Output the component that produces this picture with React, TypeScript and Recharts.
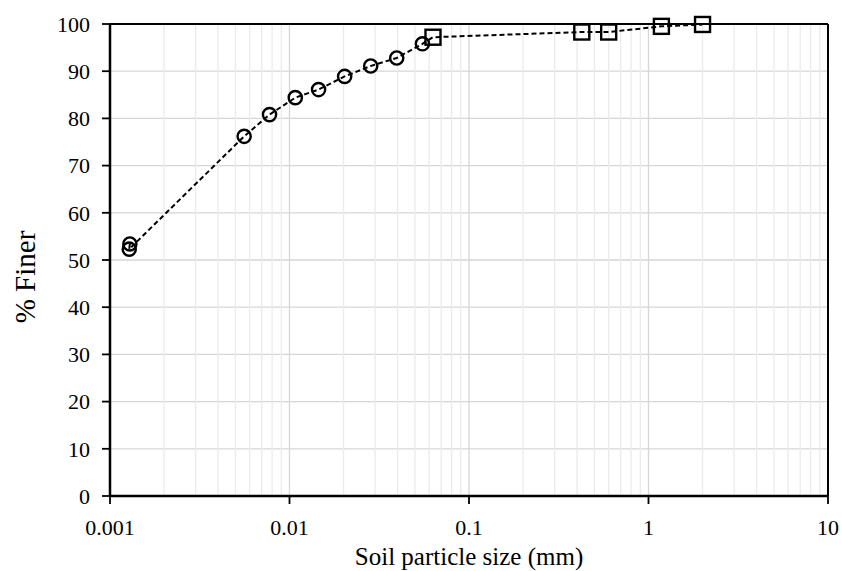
import React from 'react';
import {
  ComposedChart, Line, XAxis, YAxis, CartesianGrid, ReferenceLine,
} from 'recharts';

// hydrometer readings (circles)
const hydroSize = [0.00129, 0.00128, 0.00559, 0.00774, 0.01077, 0.01452, 0.02029, 0.02834, 0.03957, 0.05503];
const hydroFiner = [53.4, 52.3, 76.2, 80.8, 84.4, 86.1, 88.9, 91.1, 92.8, 95.8];

// sieve readings (squares)
const sieveSize = [0.063, 0.425, 0.6, 1.18, 2.0];
const sieveFiner = [97.2, 98.3, 98.3, 99.5, 99.9];

const xTicks = [0.001, 0.01, 0.1, 1, 10];
const yTicks = [0, 10, 20, 30, 40, 50, 60, 70, 80, 90, 100];
const decades = [0.001, 0.01, 0.1, 1];
const minorSteps = [2, 3, 4, 5, 6, 7, 8, 9];

const FONT = '"Liberation Serif", "Times New Roman", serif';

const points = [
  ...hydroSize.map((s, i) => ({ size: s, finer: hydroFiner[i], kind: 'hydro' })),
  ...sieveSize.map((s, i) => ({ size: s, finer: sieveFiner[i], kind: 'sieve' })),
];

const minorLines = decades.flatMap(d => minorSteps.map(m => +(d * m).toPrecision(3)));

function Marker(props: any) {
  const { cx, cy, payload, index } = props;
  if (cx == null || cy == null) return null;
  if (payload.kind === 'sieve') {
    return (
      <rect key={`m-${index}`} x={cx - 7.5} y={cy - 7.5} width={15} height={15}
        fill="none" stroke="#000" strokeWidth={2.4} />
    );
  }
  return <circle key={`m-${index}`} cx={cx} cy={cy} r={6.6} fill="none" stroke="#000" strokeWidth={2.4} />;
}

function YLabel() {
  return (
    <text x={25} y={277} transform="rotate(-90 25 277)" textAnchor="middle"
      dominantBaseline="central" fontSize={29} fontFamily={FONT} fill="#000">
      % Finer
    </text>
  );
}

export default function App() {
  return (
    <div style={{ position: 'absolute', left: 0, top: 0, width: 842, height: 571, background: '#fff' }}>
      <ComposedChart width={842} height={571} margin={{ top: 24, right: 14, bottom: 0, left: 0 }}>
        <CartesianGrid stroke="#d6d6d6" strokeWidth={1.3} horizontal vertical />
        {minorLines.map(v => (
          <ReferenceLine key={v} x={v} stroke="#ebebeb" strokeWidth={1.3} />
        ))}
        <ReferenceLine y={100} stroke="#000" strokeWidth={2} />
        <ReferenceLine x={10} stroke="#000" strokeWidth={2} />
        <XAxis
          dataKey="size"
          type="number"
          scale="log"
          domain={[0.001, 10]}
          ticks={xTicks}
          allowDataOverflow
          height={75}
          tickSize={8}
          tickMargin={15}
          axisLine={{ stroke: '#000', strokeWidth: 2.5 }}
          tickLine={{ stroke: '#000', strokeWidth: 1.8 }}
          tick={{ fontSize: 22, fontFamily: FONT, fill: '#000' }}
          label={{
            value: 'Soil particle size (mm)', position: 'insideBottom', offset: 6,
            style: { fontSize: 25, fontFamily: FONT, fill: '#000' },
          }}
        />
        <YAxis
          type="number"
          domain={[0, 100]}
          ticks={yTicks}
          width={110}
          tickSize={8}
          tickMargin={12}
          axisLine={{ stroke: '#000', strokeWidth: 2.5 }}
          tickLine={{ stroke: '#000', strokeWidth: 1.8 }}
          tick={{ fontSize: 22, fontFamily: FONT, fill: '#000' }}
          label={<YLabel />}
        />
        <Line
          data={points}
          dataKey="finer"
          type="linear"
          stroke="#000"
          strokeWidth={2}
          strokeDasharray="5 3"
          dot={Marker}
          activeDot={false}
          isAnimationActive={false}
        />
      </ComposedChart>
    </div>
  );
}
